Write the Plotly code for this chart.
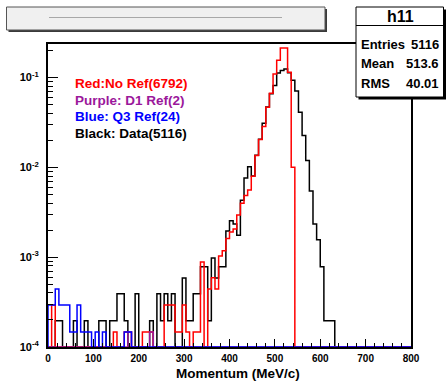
import numpy as np
import plotly.graph_objects as go

# ---------------- data ----------------
X_MIN, X_MAX, N_BINS = 0, 800, 100          # 8 MeV/c bins
N_DATA = 5116                                # black normalisation
N_MC = 6792                                  # MC normalisation (red / purple / blue)

black_counts = [0, 0, 1, 1, 0, 0, 0, 1, 0, 0,
                1, 0, 0, 0, 1, 1, 0, 1, 1, 2,
                2, 1, 0, 0, 2, 0, 0, 0, 1, 0,
                2, 1, 2, 1, 2, 0, 0, 3, 1, 1,
                2, 2, 4, 4, 1, 5, 3, 4, 4, 10,
                13, 12, 9, 22, 39, 52, 41, 70, 105, 159,
                240, 337, 418, 575, 615, 639, 580, 479, 363, 211,
                116, 61, 28, 12, 8, 4, 1, 1, 1, 0,
                0, 0, 0, 0, 0, 0, 0, 0, 0, 0,
                0, 0, 0, 0, 0, 0, 0, 0, 0, 0]

red_counts = [0, 2, 0, 0, 0, 0, 0, 0, 0, 0,
              0, 0, 0, 0, 0, 0, 0, 0, 1, 0,
              0, 1, 1, 0, 0, 0, 1, 1, 1, 0,
              0, 0, 2, 2, 2, 1, 1, 2, 1, 0,
              1, 1, 6, 0, 3, 4, 3, 7, 8, 11,
              13, 14, 20, 27, 33, 38, 54, 92, 139, 194,
              317, 455, 744, 1060, 1450, 1450, 780, 68, 0, 0,
              0, 0, 0, 0, 0, 0, 0, 0, 0, 0,
              0, 0, 0, 0, 0, 0, 0, 0, 0, 0,
              0, 0, 0, 0, 0, 0, 0, 0, 0, 0]

purple_counts = [0] * 22 + [1] + [0] * 5 + [1] + [0] * 71

blue_counts = [2, 2, 3, 2, 2, 2, 1, 1, 2, 1,
               1, 1, 0, 1, 0, 1, 0, 0, 0, 0,
               0, 1, 1] + [0] * 77

y_tickvals = [1e-4, 1e-3, 1e-2, 1e-1]
y_ticktext = ["10<sup>-4</sup>", "10<sup>-3</sup>", "10<sup>-2</sup>", "10<sup>-1</sup>"]
x_tickvals = [0, 100, 200, 300, 400, 500, 600, 700, 800]
x_ticktext = ["0", "100", "200", "300", "400", "500", "600", "700", "800"]

legend_text = ["Red:No Ref(6792)", "Purple: D1 Ref(2)", "Blue: Q3 Ref(24)", "Black: Data(5116)"]
legend_colors = ["#ff0000", "#9b189b", "#0000ff", "#000000"]

stats_title = "h11"
stats_labels = ["Entries", "Mean", "RMS"]
stats_values = ["5116", "513.6", "40.01"]
x_title = "Momentum (MeV/c)"

# ---------------- layout constants ----------------
FIG_W, FIG_H = 446, 382
L, R, T, B = 48, 35, 44, 35
PW, PH = FIG_W - L - R, FIG_H - T - B
Y_LOG_MIN, Y_LOG_MAX = -4, -0.626
YMIN = 10 ** Y_LOG_MIN
FONT = "Liberation Sans, Arial, Helvetica, sans-serif"


def px(x):
    return (x - L) / PW


def py(y):
    return (FIG_H - B - y) / PH


edges = np.linspace(X_MIN, X_MAX, N_BINS + 1)


def step_trace(counts, norm, color, width=1.5):
    vals = [max(c / norm, YMIN) for c in counts]   # empty bins drawn at the floor (ROOT style)
    xs = [edges[0]] + list(edges)
    ys = [YMIN] + vals + [YMIN]
    return go.Scatter(x=xs, y=ys, mode="lines", line=dict(color=color, width=width, shape="hv"),
                      hoverinfo="skip", showlegend=False)


fig = go.Figure()
fig.add_trace(step_trace(black_counts, N_DATA, "#000000"))
fig.add_trace(step_trace(red_counts, N_MC, "#ff0000"))
fig.add_trace(step_trace(purple_counts, N_MC, "#9b189b"))
fig.add_trace(step_trace(blue_counts, N_MC, "#0000ff"))

minor_y = [m * 10.0 ** e for e in range(-4, 0) for m in range(2, 10)] + [0.2]

fig.update_xaxes(range=[X_MIN, X_MAX], showgrid=False, zeroline=False,
                 showline=True, mirror=True, linecolor="black", linewidth=2,
                 ticks="inside", ticklen=8, tickcolor="black", tickwidth=1,
                 tickvals=x_tickvals, ticktext=x_ticktext, ticklabelstandoff=1,
                 tickfont=dict(family=FONT, size=10, color="black", weight="bold"),
                 minor=dict(ticks="inside", ticklen=4, dtick=20, tickcolor="black", showgrid=False))
fig.update_yaxes(type="log", range=[Y_LOG_MIN, Y_LOG_MAX], showgrid=False, zeroline=False,
                 showline=True, mirror=True, linecolor="black", linewidth=2,
                 ticks="inside", ticklen=10, tickcolor="black", tickwidth=1,
                 tickvals=y_tickvals, ticktext=y_ticktext, ticklabelstandoff=5,
                 tickfont=dict(family=FONT, size=11, color="black", weight="bold"),
                 minor=dict(ticks="inside", ticklen=5, tickvals=minor_y, tickcolor="black", showgrid=False))

shapes = []
# title box (shadow + box + unreadable tiny title)
shapes.append(dict(type="rect", xref="paper", yref="paper", x0=px(8.5), x1=px(327), y0=py(9), y1=py(32),
                   fillcolor="#3a3a3a", line=dict(width=0), layer="above"))
shapes.append(dict(type="rect", xref="paper", yref="paper", x0=px(6.5), x1=px(325), y0=py(7), y1=py(30),
                   fillcolor="#f0f0f0", line=dict(color="#555555", width=1), layer="above"))
shapes.append(dict(type="line", xref="paper", yref="paper", x0=px(49), x1=px(282), y0=py(17.5), y1=py(17.5),
                   line=dict(color="#a8a8a8", width=1), layer="above"))
# stats box
shapes.append(dict(type="rect", xref="paper", yref="paper", x0=px(358.5), x1=px(446), y0=py(9.5), y1=py(99.5),
                   fillcolor="black", line=dict(width=0), layer="above"))
shapes.append(dict(type="rect", xref="paper", yref="paper", x0=px(356), x1=px(443.5), y0=py(7), y1=py(97),
                   fillcolor="white", line=dict(color="black", width=1), layer="above"))
shapes.append(dict(type="line", xref="paper", yref="paper", x0=px(356), x1=px(443.5), y0=py(25.5), y1=py(25.5),
                   line=dict(color="black", width=1), layer="above"))

ann = []
for i, (t, c) in enumerate(zip(legend_text, legend_colors)):
    ann.append(dict(xref="paper", yref="paper", x=px(72.5), y=py(83.5 + 16.5 * i), text=t,
                    xanchor="left", yanchor="middle", showarrow=False,
                    font=dict(family=FONT, size=13.5, color=c, weight="bold")))
ann.append(dict(xref="paper", yref="paper", x=px(400), y=py(16.5), text=stats_title,
                xanchor="center", yanchor="middle", showarrow=False,
                font=dict(family=FONT, size=16, color="black", weight="bold")))
for i, (lab, val) in enumerate(zip(stats_labels, stats_values)):
    yy = py(44 + 19.7 * i)
    ann.append(dict(xref="paper", yref="paper", x=px(358.5), y=yy, text=lab, xanchor="left", yanchor="middle",
                    showarrow=False, font=dict(family=FONT, size=13, color="black", weight="bold")))
    ann.append(dict(xref="paper", yref="paper", x=px(441.5), y=yy, text=val, xanchor="right", yanchor="middle",
                    showarrow=False, font=dict(family=FONT, size=13, color="black", weight="bold")))
ann.append(dict(xref="paper", yref="paper", x=px(237.5), y=py(373), text=x_title,
                xanchor="center", yanchor="middle", showarrow=False,
                font=dict(family=FONT, size=13.5, color="black", weight="bold")))

fig.update_layout(width=FIG_W, height=FIG_H, margin=dict(l=L, r=R, t=T, b=B, pad=0),
                  paper_bgcolor="white", plot_bgcolor="white", showlegend=False,
                  shapes=shapes, annotations=ann)

fig.write_html("out.html")
